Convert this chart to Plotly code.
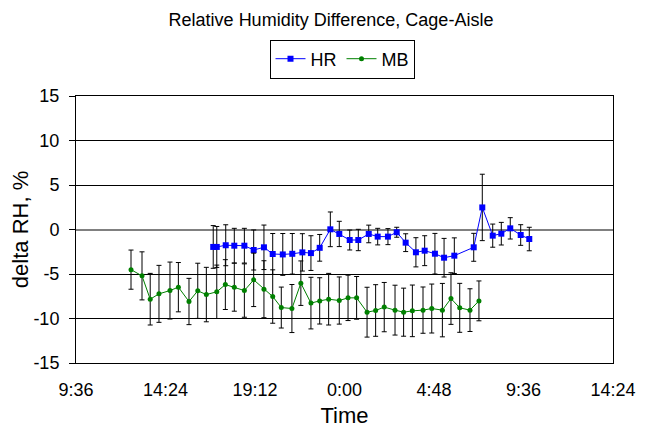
import plotly.graph_objects as go

# Time in hours from midnight of day 1 (values > 24 are next day)
hr_time = [16.96, 17.15, 17.63, 18.09, 18.63, 19.13, 19.68, 20.15, 20.69, 21.20,
           21.74, 22.20, 22.67, 23.24, 23.72, 24.28, 24.74, 25.30, 25.78, 26.33,
           26.80, 27.28, 27.83, 28.30, 28.85, 29.34, 29.89, 30.93, 31.39, 31.95,
           32.41, 32.89, 33.45, 33.91]
hr_val = [-1.96, -1.96, -1.77, -1.82, -1.82, -2.30, -2.00, -2.75, -2.80, -2.73,
          -2.57, -2.65, -2.06, 0.02, -0.50, -1.18, -1.18, -0.50, -0.80, -0.80,
          -0.31, -1.48, -2.56, -2.38, -2.72, -3.17, -2.94, -2.00, 2.48, -0.69,
          -0.47, 0.13, -0.62, -1.07]
hr_err = [2.4, 2.3, 2.3, 1.95, 1.95, 2.25, 2.5, 2.3, 2.35, 2.28,
          2.1, 1.95, 1.5, 1.95, 1.42, 1.12, 1.2, 0.99, 0.93, 0.9,
          0.56, 1.0, 1.64, 1.68, 2.28, 2.17, 2.0, 1.57, 3.73, 1.3,
          1.27, 1.2, 1.16, 1.32]

mb_time = [12.55, 13.14, 13.58, 14.05, 14.64, 15.09, 15.66, 16.13, 16.59, 17.15,
           17.61, 18.09, 18.63, 19.13, 19.68, 20.15, 20.61, 21.18, 21.66, 22.20,
           22.67, 23.15, 23.72, 24.19, 24.65, 25.21, 25.67, 26.13, 26.71, 27.17,
           27.64, 28.21, 28.68, 29.25, 29.71, 30.18, 30.73, 31.21]
mb_val = [-4.51, -5.21, -7.83, -7.23, -6.86, -6.48, -8.09, -6.89, -7.31, -7.00,
          -6.19, -6.48, -6.86, -5.66, -6.71, -7.53, -8.77, -8.88, -6.03, -8.27,
          -8.02, -7.83, -7.98, -7.68, -7.68, -9.29, -9.10, -8.72, -9.06, -9.29,
          -9.14, -9.06, -8.88, -9.06, -7.76, -8.80, -9.06, -8.02]
mb_err = [2.2, 2.7, 2.9, 3.2, 3.2, 2.77, 2.6, 3.1, 3.06, 3.0,
          2.8, 2.7, 3.0, 3.0, 3.2, 3.0, 2.3, 2.7, 2.5, 2.9,
          2.6, 2.9, 2.65, 2.55, 2.4, 2.8, 2.9, 2.77, 2.8, 2.7,
          2.9, 2.6, 2.75, 3.0, 2.9, 2.75, 2.4, 2.24]

x_tickvals = [9.6, 14.4, 19.2, 24.0, 28.8, 33.6, 38.4]
x_ticktext = ["9:36", "14:24", "19:12", "0:00", "4:48", "9:36", "14:24"]
y_tickvals = [-15, -10, -5, 0, 5, 10, 15]
y_ticktext = ["-15", "-10", "-5", "0", "5", "10", "15"]

FONT = "Liberation Sans, Arial, sans-serif"
W, H = 646, 420  # page body adds an 8px margin

fig = go.Figure()
fig.add_trace(go.Scatter(
    x=hr_time, y=hr_val, name="HR", mode="lines+markers",
    line=dict(color="#0000FF", width=1),
    marker=dict(symbol="square", size=6, color="#0000FF"),
    error_y=dict(type="data", array=hr_err, visible=True, color="black", thickness=1, width=2.5),
))
fig.add_trace(go.Scatter(
    x=mb_time, y=mb_val, name="MB", mode="lines+markers",
    line=dict(color="#008000", width=1),
    marker=dict(symbol="circle", size=5, color="#008000"),
    error_y=dict(type="data", array=mb_err, visible=True, color="black", thickness=1, width=2.5),
))

fig.update_layout(
    width=W, height=H,
    margin=dict(l=68, r=41, t=88, b=65, autoexpand=False),
    paper_bgcolor="white", plot_bgcolor="white",
    font=dict(family=FONT, size=18, color="black"),
    title=dict(text="Relative Humidity Difference, Cage-Aisle", x=0.5, xanchor="center",
               y=1 - 12 / H, yanchor="middle", font=dict(size=18)),
    legend=dict(orientation="h", x=(342 - 76) / 537, xanchor="center",
                y=1 + (96 - 59) / 267, yanchor="middle",
                bordercolor="black", borderwidth=1, font=dict(size=18),
                itemwidth=30, tracegroupgap=0),
    showlegend=True,
)
fig.update_xaxes(
    range=[9.6, 38.4], tickvals=x_tickvals, ticktext=x_ticktext,
    showgrid=False, zeroline=False, showline=True, linecolor="black", mirror=True,
    ticks="", ticklabelstandoff=10, automargin=False,
    title=dict(text="Time", standoff=9), tickfont=dict(size=18),
)
fig.update_yaxes(
    range=[-15, 15], tickvals=y_tickvals, ticktext=y_ticktext,
    showgrid=True, gridcolor="black", gridwidth=1,
    zeroline=True, zerolinecolor="#808080", zerolinewidth=1.5,
    showline=True, linecolor="black", mirror=True,
    ticks="outside", ticklen=6, tickcolor="black", ticklabelstandoff=6, automargin=False,
    title=dict(text="delta RH, %", standoff=4), tickfont=dict(size=18),
)

fig.write_html("out.html")
